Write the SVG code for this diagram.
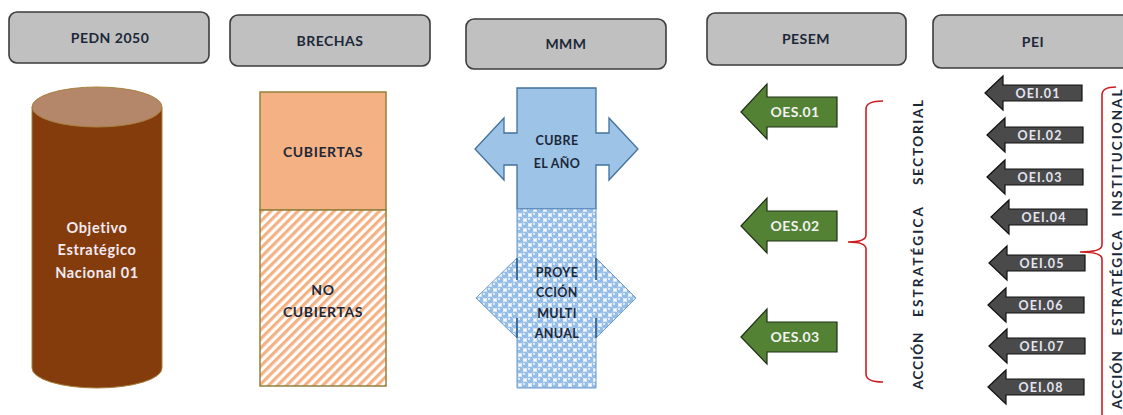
<svg xmlns="http://www.w3.org/2000/svg" width="1123" height="415" viewBox="0 0 1123 415">
  <defs>
    <!-- diagonal stripes for the uncovered gap -->
    <pattern id="hatch" width="6.4" height="6.4" patternUnits="userSpaceOnUse" patternTransform="rotate(45)">
      <rect width="6.4" height="6.4" fill="#ffffff"/>
      <rect width="3.2" height="6.4" fill="#f4b183"/>
    </pattern>
    <!-- sphere texture for the multi-year projection -->
    <pattern id="spheres" width="10" height="10" patternUnits="userSpaceOnUse">
      <rect width="10" height="10" fill="#ffffff"/>
      <g fill="#94bde8">
        <circle cx="0" cy="0" r="3.4"/>
        <circle cx="10" cy="0" r="3.4"/>
        <circle cx="0" cy="10" r="3.4"/>
        <circle cx="10" cy="10" r="3.4"/>
        <circle cx="5" cy="5" r="3.4"/>
      </g>
      <g fill="#e6f1fb">
        <circle cx="4" cy="3.9" r="1.1"/>
        <circle cx="9" cy="8.9" r="1.1"/>
        <circle cx="-1" cy="-1.1" r="1.1"/>
      </g>
    </pattern>
  </defs>
  <style>
    .hdr rect { fill: #c0c0c0; stroke: #3d3d3d; stroke-width: 1.6; }
    .t { font-family: Lato, "Liberation Sans", sans-serif; font-weight: bold; text-anchor: middle; }
    .hdr text { font-size: 14px; letter-spacing: 0.5px; fill: #1c2838; }
    .dark { fill: #1c2838; font-size: 14px; letter-spacing: 0.6px; }
    .mmm { fill: #1c2838; font-size: 12.5px; letter-spacing: 0.4px; }
    .light { fill: #f3eaf3; font-size: 14.5px; letter-spacing: 0.6px; }
    .oes polygon { fill: #548235; stroke: #1f2f14; stroke-width: 1.2; }
    .oes text { fill: #f2f2f2; font-size: 14px; letter-spacing: 0.4px; }
    .oei polygon { fill: #4a4a4a; stroke: #111111; stroke-width: 1.2; }
    .oei text { fill: #e4e6f2; font-size: 12.5px; letter-spacing: 1.1px; }
    .brace { fill: none; stroke: #cc2020; stroke-width: 1.6; }
    .vert { fill: #1c2838; font-size: 13.5px; }
  </style>

  <!-- column headers -->
  <g id="hdr-pedn" class="hdr">
    <rect x="9" y="12" width="200" height="51" rx="8"/>
    <text class="t" x="110" y="43">PEDN 2050</text>
  </g>
  <g id="hdr-brechas" class="hdr">
    <rect x="230" y="15" width="200" height="51" rx="8"/>
    <text class="t" x="330" y="46">BRECHAS</text>
  </g>
  <g id="hdr-mmm" class="hdr">
    <rect x="466" y="19" width="200" height="50" rx="8"/>
    <text class="t" x="566" y="49">MMM</text>
  </g>
  <g id="hdr-pesem" class="hdr">
    <rect x="707" y="13" width="199" height="52" rx="8"/>
    <text class="t" x="806" y="44">PESEM</text>
  </g>
  <g id="hdr-pei" class="hdr">
    <rect x="933" y="15" width="200" height="53" rx="8"/>
    <text class="t" x="1033" y="47">PEI</text>
  </g>

  <!-- national objective cylinder -->
  <g id="objetivo-nacional">
    <path d="M32,107 L32,368 A65,20 0 0 0 162,368 L162,107 Z" fill="#843c0c" stroke="#a8803c" stroke-width="1"/>
    <ellipse cx="97" cy="107" rx="65" ry="20" fill="#b5876a" stroke="#a8803c" stroke-width="1"/>
    <text class="t light" x="97" y="233">Objetivo</text>
    <text class="t light" x="97" y="255">Estratégico</text>
    <text class="t light" x="97" y="278">Nacional 01</text>
  </g>

  <!-- gaps: covered / not covered -->
  <g id="brechas-cubiertas">
    <rect x="260" y="92" width="126" height="118" fill="#f4b183" stroke="#94803c" stroke-width="1.5"/>
    <text class="t dark" x="323" y="157">CUBIERTAS</text>
  </g>
  <g id="brechas-no-cubiertas">
    <rect x="260" y="210" width="126" height="176" fill="url(#hatch)" stroke="#94803c" stroke-width="1.5"/>
    <text class="t dark" x="323" y="295">NO</text>
    <text class="t dark" x="323" y="317">CUBIERTAS</text>
  </g>

  <!-- MMM: current year and multi-year projection -->
  <g id="mmm-anual">
    <path d="M517,88 L596,88 L596,133 L609,133 L609,118 L638,149 L609,180 L609,165 L596,165 L596,209 L517,209 L517,165 L504,165 L504,180 L475,149 L504,118 L504,133 L517,133 Z" fill="#9dc3e6" stroke="#41719c" stroke-width="1.3"/>
    <text class="t mmm" x="557" y="145">CUBRE</text>
    <text class="t mmm" x="557" y="168">EL AÑO</text>
  </g>
  <g id="mmm-multianual">
    <path d="M517,209 L596,209 L596,258 L636,298 L596,338 L596,388 L517,388 L517,338 L476,298 L517,258 Z" fill="url(#spheres)" stroke="#6f9bcb" stroke-width="1"/>
    <path d="M517,258 V280 M517,318 V338 M596,258 V280 M596,318 V338" stroke="#41719c" stroke-width="2" fill="none"/>
    <text class="t mmm" x="557" y="277">PROYE</text>
    <text class="t mmm" x="557" y="297">CCIÓN</text>
    <text class="t mmm" x="557" y="318">MULTI</text>
    <text class="t mmm" x="557" y="338">ANUAL</text>
  </g>

  <!-- sector strategic objectives -->
  <g id="oes-01" class="oes">
    <polygon points="741,112 767,84 767,97 837,97 837,127 767,127 767,139"/>
    <text class="t" x="795" y="117">OES.01</text>
  </g>
  <g id="oes-02" class="oes">
    <polygon points="741,226 767,198 767,211 837,211 837,241 767,241 767,253"/>
    <text class="t" x="795" y="231">OES.02</text>
  </g>
  <g id="oes-03" class="oes">
    <polygon points="741,337 767,309 767,322 837,322 837,352 767,352 767,364"/>
    <text class="t" x="795" y="342">OES.03</text>
  </g>

  <!-- institutional strategic objectives -->
  <g id="oei-01" class="oei">
    <polygon points="985,93 1003,76 1003,85 1082,85 1082,101 1003,101 1003,110"/>
    <text class="t" x="1038" y="97.5">OEI.01</text>
  </g>
  <g id="oei-02" class="oei">
    <polygon points="987,135 1005,118 1005,127 1083,127 1083,143 1005,143 1005,152"/>
    <text class="t" x="1040" y="139.5">OEI.02</text>
  </g>
  <g id="oei-03" class="oei">
    <polygon points="987,177 1005,160 1005,169 1083,169 1083,185 1005,185 1005,194"/>
    <text class="t" x="1040" y="181.5">OEI.03</text>
  </g>
  <g id="oei-04" class="oei">
    <polygon points="991,217 1009,200 1009,209 1087,209 1087,225 1009,225 1009,234"/>
    <text class="t" x="1044" y="221.5">OEI.04</text>
  </g>
  <g id="oei-05" class="oei">
    <polygon points="989,263 1007,246 1007,255 1085,255 1085,271 1007,271 1007,280"/>
    <text class="t" x="1042" y="267.5">OEI.05</text>
  </g>
  <g id="oei-06" class="oei">
    <polygon points="988,305 1006,288 1006,297 1084,297 1084,313 1006,313 1006,322"/>
    <text class="t" x="1041" y="309.5">OEI.06</text>
  </g>
  <g id="oei-07" class="oei">
    <polygon points="989,346 1007,329 1007,338 1085,338 1085,354 1007,354 1007,363"/>
    <text class="t" x="1042" y="350.5">OEI.07</text>
  </g>
  <g id="oei-08" class="oei">
    <polygon points="988,387 1006,370 1006,379 1084,379 1084,395 1006,395 1006,404"/>
    <text class="t" x="1041" y="391.5">OEI.08</text>
  </g>

  <!-- grouping braces -->
  <g id="connectors">
    <path class="brace" d="M883,101 Q866,101 866,109 L866,235 Q866,242 848,242 Q866,242 866,249 L866,374 Q866,382 883,382"/>
    <path class="brace" d="M1116,87 Q1102,87 1102,95 L1102,245 Q1102,252 1080,252 Q1102,252 1102,259 L1102,420"/>
  </g>

  <!-- vertical captions -->
  <g id="accion-sectorial" transform="translate(922.5,0) rotate(-90)">
    <text class="t vert" x="-142.5" y="0" textLength="85" lengthAdjust="spacing">SECTORIAL</text>
    <text class="t vert" x="-262" y="0" textLength="110" lengthAdjust="spacing">ESTRATÉGICA</text>
    <text class="t vert" x="-361" y="0" textLength="57" lengthAdjust="spacing">ACCIÓN</text>
  </g>
  <g id="accion-institucional" transform="translate(1121.5,0) rotate(-90)">
    <text class="t vert" x="-153" y="0" textLength="127" lengthAdjust="spacing">INSTITUCIONAL</text>
    <text class="t vert" x="-283" y="0" textLength="105" lengthAdjust="spacing">ESTRATÉGICA</text>
    <text class="t vert" x="-380" y="0" textLength="58" lengthAdjust="spacing">ACCIÓN</text>
  </g>
</svg>
